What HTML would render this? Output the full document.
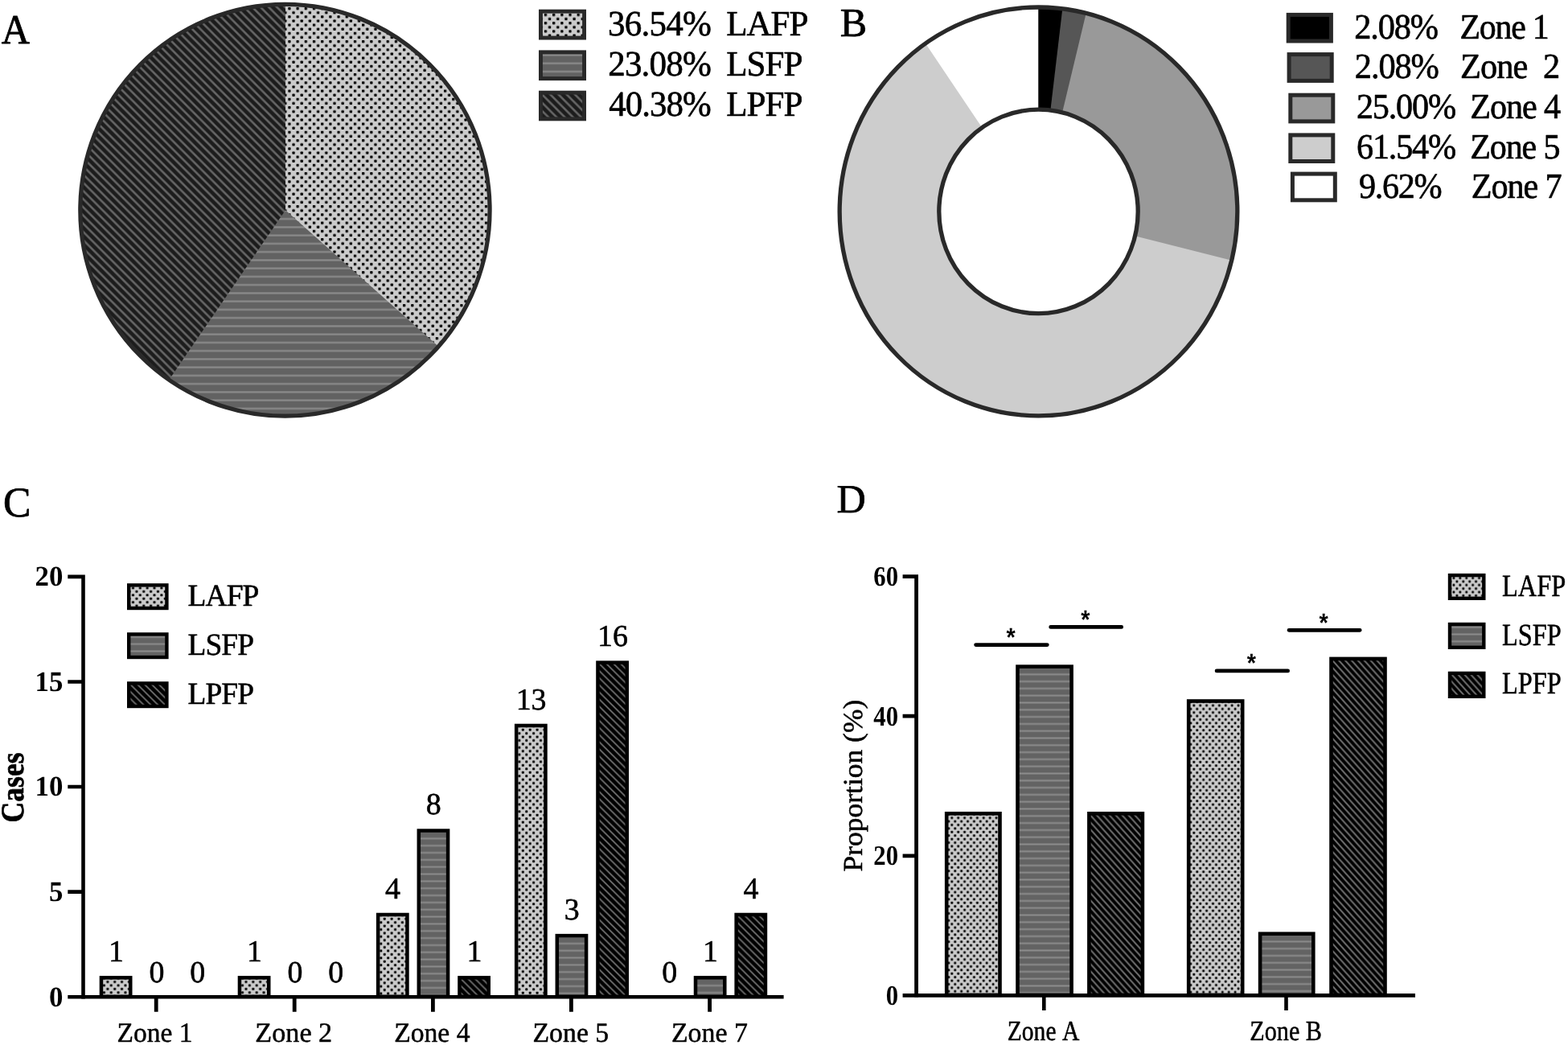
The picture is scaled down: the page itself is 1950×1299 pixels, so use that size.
<!DOCTYPE html>
<html lang="en"><head><meta charset="utf-8"><title>Figure</title>
<style>html,body{margin:0;padding:0;background:#fff}body{width:1950px;height:1299px;overflow:hidden}svg{display:block}text{font-kerning:none;text-rendering:geometricPrecision;white-space:pre}.s{font-family:"Liberation Serif",serif;stroke:#000;stroke-linejoin:round}.sb{font-family:"Liberation Serif",serif;font-weight:bold}.n{font-family:"Liberation Sans",sans-serif}.nb{font-family:"Liberation Sans",sans-serif;font-weight:bold}</style></head><body>
<svg width="1950" height="1299" viewBox="0 0 1950 1299">
<defs>
<pattern id="p1" patternUnits="userSpaceOnUse" x="0" y="1.1" width="10.2" height="10.2">
<rect width="10.2" height="10.2" fill="#1c1c1c"/>
<path d="M-10.2 -10.2L20.4 20.4M-10.2 0L10.2 20.4M0 -10.2L20.4 10.2" stroke="#666" stroke-width="2.6" fill="none"/>
</pattern>
<pattern id="p2" patternUnits="userSpaceOnUse" x="0" y="0.52" width="20" height="10.25">
<rect width="20" height="10.25" fill="#626262"/>
<rect y="4.03" width="20" height="2.2" fill="#8b8b8b"/>
</pattern>
<pattern id="p3" patternUnits="userSpaceOnUse" x="0.75" y="8.09" width="10.19" height="10.25">
<rect width="10.19" height="10.25" fill="#cbcbcb"/>
<rect x="0.9" y="0.91" width="3.3" height="3.3" rx="0.73" fill="#000"/>
<rect x="5.99" y="6.04" width="3.3" height="3.3" rx="0.73" fill="#000"/>
</pattern>
<pattern id="p4" patternUnits="userSpaceOnUse" x="3.38" y="5.66" width="10.19" height="10.25">
<rect width="10.19" height="10.25" fill="#cbcbcb"/>
<rect x="0.9" y="0.91" width="3.3" height="3.3" rx="0.73" fill="#000"/>
<rect x="5.99" y="6.04" width="3.3" height="3.3" rx="0.73" fill="#000"/>
</pattern>
<pattern id="p5" patternUnits="userSpaceOnUse" x="0" y="1.88" width="20" height="10.25">
<rect width="20" height="10.25" fill="#626262"/>
<rect y="4.03" width="20" height="2.2" fill="#8b8b8b"/>
</pattern>
<pattern id="p6" patternUnits="userSpaceOnUse" x="0" y="4.3" width="10.2" height="10.2">
<rect width="10.2" height="10.2" fill="#1c1c1c"/>
<path d="M-10.2 -10.2L20.4 20.4M-10.2 0L10.2 20.4M0 -10.2L20.4 10.2" stroke="#666" stroke-width="2.6" fill="none"/>
</pattern>
<pattern id="p7" patternUnits="userSpaceOnUse" x="7.59" y="7.27" width="8.86" height="8.84">
<rect width="8.86" height="8.84" fill="#cbcbcb"/>
<rect x="0.71" y="0.71" width="3" height="3" rx="0.66" fill="#000"/>
<rect x="5.14" y="5.13" width="3" height="3" rx="0.66" fill="#000"/>
</pattern>
<pattern id="p8" patternUnits="userSpaceOnUse" x="0" y="0.79" width="20" height="8.84">
<rect width="20" height="8.84" fill="#636363"/>
<rect y="3.42" width="20" height="2" fill="#8c8c8c"/>
</pattern>
<pattern id="p9" patternUnits="userSpaceOnUse" x="0" y="2.27" width="8.86" height="8.84">
<rect width="8.86" height="8.84" fill="#000"/>
<path d="M-8.86 -8.84L17.71 17.68M-8.86 0L8.86 17.68M0 -8.84L17.71 8.84" stroke="#707070" stroke-width="1.8" fill="none"/>
</pattern>
<pattern id="p10" patternUnits="userSpaceOnUse" x="2.49" y="7.27" width="8.86" height="8.84">
<rect width="8.86" height="8.84" fill="#cbcbcb"/>
<rect x="0.71" y="0.71" width="3" height="3" rx="0.66" fill="#000"/>
<rect x="5.14" y="5.13" width="3" height="3" rx="0.66" fill="#000"/>
</pattern>
<pattern id="p11" patternUnits="userSpaceOnUse" x="0" y="0.79" width="20" height="8.84">
<rect width="20" height="8.84" fill="#636363"/>
<rect y="3.42" width="20" height="2" fill="#8c8c8c"/>
</pattern>
<pattern id="p12" patternUnits="userSpaceOnUse" x="0" y="7.37" width="8.86" height="8.84">
<rect width="8.86" height="8.84" fill="#000"/>
<path d="M-8.86 -8.84L17.71 17.68M-8.86 0L8.86 17.68M0 -8.84L17.71 8.84" stroke="#707070" stroke-width="1.8" fill="none"/>
</pattern>
<pattern id="p13" patternUnits="userSpaceOnUse" x="6.44" y="8.48" width="8.86" height="8.84">
<rect width="8.86" height="8.84" fill="#cbcbcb"/>
<rect x="0.71" y="0.71" width="3" height="3" rx="0.66" fill="#000"/>
<rect x="5.14" y="5.13" width="3" height="3" rx="0.66" fill="#000"/>
</pattern>
<pattern id="p14" patternUnits="userSpaceOnUse" x="0" y="2.01" width="20" height="8.84">
<rect width="20" height="8.84" fill="#636363"/>
<rect y="3.42" width="20" height="2" fill="#8c8c8c"/>
</pattern>
<pattern id="p15" patternUnits="userSpaceOnUse" x="0" y="4.63" width="8.86" height="8.84">
<rect width="8.86" height="8.84" fill="#000"/>
<path d="M-8.86 -8.84L17.71 17.68M-8.86 0L8.86 17.68M0 -8.84L17.71 8.84" stroke="#707070" stroke-width="1.8" fill="none"/>
</pattern>
<pattern id="p16" patternUnits="userSpaceOnUse" x="3.96" y="1.26" width="8.86" height="8.84">
<rect width="8.86" height="8.84" fill="#cbcbcb"/>
<rect x="0.71" y="0.71" width="3" height="3" rx="0.66" fill="#000"/>
<rect x="5.14" y="5.13" width="3" height="3" rx="0.66" fill="#000"/>
</pattern>
<pattern id="p17" patternUnits="userSpaceOnUse" x="0" y="3.63" width="20" height="8.84">
<rect width="20" height="8.84" fill="#636363"/>
<rect y="3.42" width="20" height="2" fill="#8c8c8c"/>
</pattern>
<pattern id="p18" patternUnits="userSpaceOnUse" x="0" y="8.73" width="8.86" height="8.84">
<rect width="8.86" height="8.84" fill="#000"/>
<path d="M-8.86 -8.84L17.71 17.68M-8.86 0L8.86 17.68M0 -8.84L17.71 8.84" stroke="#707070" stroke-width="1.8" fill="none"/>
</pattern>
<pattern id="p19" patternUnits="userSpaceOnUse" x="1.48" y="7.27" width="8.86" height="8.84">
<rect width="8.86" height="8.84" fill="#cbcbcb"/>
<rect x="0.71" y="0.71" width="3" height="3" rx="0.66" fill="#000"/>
<rect x="5.14" y="5.13" width="3" height="3" rx="0.66" fill="#000"/>
</pattern>
<pattern id="p20" patternUnits="userSpaceOnUse" x="0" y="0.79" width="20" height="8.84">
<rect width="20" height="8.84" fill="#636363"/>
<rect y="3.42" width="20" height="2" fill="#8c8c8c"/>
</pattern>
<pattern id="p21" patternUnits="userSpaceOnUse" x="0" y="8.37" width="8.86" height="8.84">
<rect width="8.86" height="8.84" fill="#000"/>
<path d="M-8.86 -8.84L17.71 17.68M-8.86 0L8.86 17.68M0 -8.84L17.71 8.84" stroke="#707070" stroke-width="1.8" fill="none"/>
</pattern>
<pattern id="p22" patternUnits="userSpaceOnUse" x="1.34" y="3.29" width="8.86" height="8.84">
<rect width="8.86" height="8.84" fill="#cbcbcb"/>
<rect x="0.71" y="0.71" width="3" height="3" rx="0.66" fill="#000"/>
<rect x="5.14" y="5.13" width="3" height="3" rx="0.66" fill="#000"/>
</pattern>
<pattern id="p23" patternUnits="userSpaceOnUse" x="0" y="5.65" width="20" height="8.84">
<rect width="20" height="8.84" fill="#636363"/>
<rect y="3.42" width="20" height="2" fill="#8c8c8c"/>
</pattern>
<pattern id="p24" patternUnits="userSpaceOnUse" x="0" y="4.53" width="8.86" height="8.84">
<rect width="8.86" height="8.84" fill="#000"/>
<path d="M-8.86 -8.84L17.71 17.68M-8.86 0L8.86 17.68M0 -8.84L17.71 8.84" stroke="#707070" stroke-width="1.8" fill="none"/>
</pattern>
<pattern id="p25" patternUnits="userSpaceOnUse" x="7.72" y="8.08" width="8.86" height="8.84">
<rect width="8.86" height="8.84" fill="#cbcbcb"/>
<rect x="0.71" y="0.71" width="3" height="3" rx="0.66" fill="#000"/>
<rect x="5.14" y="5.13" width="3" height="3" rx="0.66" fill="#000"/>
</pattern>
<pattern id="p26" patternUnits="userSpaceOnUse" x="0" y="1.6" width="20" height="8.84">
<rect width="20" height="8.84" fill="#636363"/>
<rect y="3.42" width="20" height="2" fill="#8c8c8c"/>
</pattern>
<pattern id="p27" patternUnits="userSpaceOnUse" x="0" y="2.95" width="8.86" height="8.84">
<rect width="8.86" height="8.84" fill="#000"/>
<path d="M-8.86 -8.84L17.71 17.68M-8.86 0L8.86 17.68M0 -8.84L17.71 8.84" stroke="#707070" stroke-width="1.8" fill="none"/>
</pattern>
<pattern id="p28" patternUnits="userSpaceOnUse" x="5.24" y="4.5" width="8.86" height="8.84">
<rect width="8.86" height="8.84" fill="#cbcbcb"/>
<rect x="0.71" y="0.71" width="3" height="3" rx="0.66" fill="#000"/>
<rect x="5.14" y="5.13" width="3" height="3" rx="0.66" fill="#000"/>
</pattern>
<pattern id="p29" patternUnits="userSpaceOnUse" x="0" y="6.87" width="20" height="8.84">
<rect width="20" height="8.84" fill="#636363"/>
<rect y="3.42" width="20" height="2" fill="#8c8c8c"/>
</pattern>
<pattern id="p30" patternUnits="userSpaceOnUse" x="0" y="1.86" width="8.86" height="8.84">
<rect width="8.86" height="8.84" fill="#000"/>
<path d="M-8.86 -8.84L17.71 17.68M-8.86 0L8.86 17.68M0 -8.84L17.71 8.84" stroke="#707070" stroke-width="1.8" fill="none"/>
</pattern>
<pattern id="p31" patternUnits="userSpaceOnUse" x="2.82" y="7.27" width="8.86" height="8.84">
<rect width="8.86" height="8.84" fill="#cbcbcb"/>
<rect x="0.71" y="0.71" width="3" height="3" rx="0.66" fill="#000"/>
<rect x="5.14" y="5.13" width="3" height="3" rx="0.66" fill="#000"/>
</pattern>
<pattern id="p32" patternUnits="userSpaceOnUse" x="0" y="0.79" width="20" height="8.84">
<rect width="20" height="8.84" fill="#636363"/>
<rect y="3.42" width="20" height="2" fill="#8c8c8c"/>
</pattern>
<pattern id="p33" patternUnits="userSpaceOnUse" x="0" y="7.04" width="8.86" height="8.84">
<rect width="8.86" height="8.84" fill="#000"/>
<path d="M-8.86 -8.84L17.71 17.68M-8.86 0L8.86 17.68M0 -8.84L17.71 8.84" stroke="#707070" stroke-width="1.8" fill="none"/>
</pattern>
<pattern id="p34" patternUnits="userSpaceOnUse" x="0.34" y="8.48" width="8.86" height="8.84">
<rect width="8.86" height="8.84" fill="#cbcbcb"/>
<rect x="0.71" y="0.71" width="3" height="3" rx="0.66" fill="#000"/>
<rect x="5.14" y="5.13" width="3" height="3" rx="0.66" fill="#000"/>
</pattern>
<pattern id="p35" patternUnits="userSpaceOnUse" x="0" y="2.01" width="20" height="8.84">
<rect width="20" height="8.84" fill="#636363"/>
<rect y="3.42" width="20" height="2" fill="#8c8c8c"/>
</pattern>
<pattern id="p36" patternUnits="userSpaceOnUse" x="0" y="1.89" width="8.86" height="8.84">
<rect width="8.86" height="8.84" fill="#000"/>
<path d="M-8.86 -8.84L17.71 17.68M-8.86 0L8.86 17.68M0 -8.84L17.71 8.84" stroke="#707070" stroke-width="1.8" fill="none"/>
</pattern>
<pattern id="p37" patternUnits="userSpaceOnUse" x="8.2" y="8.27" width="8.86" height="8.84">
<rect width="8.86" height="8.84" fill="#cbcbcb"/>
<rect x="0.71" y="0.71" width="3" height="3" rx="0.66" fill="#000"/>
<rect x="5.14" y="5.13" width="3" height="3" rx="0.66" fill="#000"/>
</pattern>
<pattern id="p38" patternUnits="userSpaceOnUse" x="0" y="0.62" width="20" height="8.84">
<rect width="20" height="8.84" fill="#636363"/>
<rect y="3.42" width="20" height="2" fill="#8c8c8c"/>
</pattern>
<pattern id="p39" patternUnits="userSpaceOnUse" x="0" y="8.36" width="8.86" height="8.84">
<rect width="8.86" height="8.84" fill="#000"/>
<path d="M-8.86 -8.84L17.71 17.68M-8.86 0L8.86 17.68M0 -8.84L17.71 8.84" stroke="#707070" stroke-width="1.8" fill="none"/>
</pattern>
<pattern id="p40" patternUnits="userSpaceOnUse" x="4.71" y="2.47" width="7.9" height="8.8">
<rect width="7.9" height="8.8" fill="#cbcbcb"/>
<rect x="0.58" y="0.8" width="2.8" height="2.8" rx="0.62" fill="#000"/>
<rect x="4.53" y="5.2" width="2.8" height="2.8" rx="0.62" fill="#000"/>
</pattern>
<pattern id="p41" patternUnits="userSpaceOnUse" x="0" y="4.56" width="20" height="8.8">
<rect width="20" height="8.8" fill="#636363"/>
<rect y="3.4" width="20" height="2" fill="#8c8c8c"/>
</pattern>
<pattern id="p42" patternUnits="userSpaceOnUse" x="0" y="8.22" width="7.9" height="8.8">
<rect width="7.9" height="8.8" fill="#000"/>
<path d="M-7.9 -8.8L15.8 17.6M-7.9 0L7.9 17.6M0 -8.8L15.8 8.8" stroke="#707070" stroke-width="2" fill="none"/>
</pattern>
<pattern id="p43" patternUnits="userSpaceOnUse" x="6.11" y="4.6" width="7.9" height="8.8">
<rect width="7.9" height="8.8" fill="#cbcbcb"/>
<rect x="0.58" y="0.8" width="2.8" height="2.8" rx="0.62" fill="#000"/>
<rect x="4.53" y="5.2" width="2.8" height="2.8" rx="0.62" fill="#000"/>
</pattern>
<pattern id="p44" patternUnits="userSpaceOnUse" x="0" y="6.69" width="20" height="8.8">
<rect width="20" height="8.8" fill="#636363"/>
<rect y="3.4" width="20" height="2" fill="#8c8c8c"/>
</pattern>
<pattern id="p45" patternUnits="userSpaceOnUse" x="0" y="8.79" width="7.9" height="8.8">
<rect width="7.9" height="8.8" fill="#000"/>
<path d="M-7.9 -8.8L15.8 17.6M-7.9 0L7.9 17.6M0 -8.8L15.8 8.8" stroke="#707070" stroke-width="2" fill="none"/>
</pattern>
<pattern id="p46" patternUnits="userSpaceOnUse" x="0.21" y="2.47" width="7.9" height="8.8">
<rect width="7.9" height="8.8" fill="#cbcbcb"/>
<rect x="0.58" y="0.8" width="2.8" height="2.8" rx="0.62" fill="#000"/>
<rect x="4.53" y="5.2" width="2.8" height="2.8" rx="0.62" fill="#000"/>
</pattern>
<pattern id="p47" patternUnits="userSpaceOnUse" x="0" y="4.56" width="20" height="8.8">
<rect width="20" height="8.8" fill="#636363"/>
<rect y="3.4" width="20" height="2" fill="#8c8c8c"/>
</pattern>
<pattern id="p48" patternUnits="userSpaceOnUse" x="0" y="4.43" width="7.9" height="8.8">
<rect width="7.9" height="8.8" fill="#000"/>
<path d="M-7.9 -8.8L15.8 17.6M-7.9 0L7.9 17.6M0 -8.8L15.8 8.8" stroke="#707070" stroke-width="2" fill="none"/>
</pattern>
<pattern id="p49" patternUnits="userSpaceOnUse" x="5.51" y="3.5" width="7.9" height="8.8">
<rect width="7.9" height="8.8" fill="#cbcbcb"/>
<rect x="0.58" y="0.8" width="2.8" height="2.8" rx="0.62" fill="#000"/>
<rect x="4.53" y="5.2" width="2.8" height="2.8" rx="0.62" fill="#000"/>
</pattern>
<pattern id="p50" patternUnits="userSpaceOnUse" x="0" y="5.59" width="20" height="8.8">
<rect width="20" height="8.8" fill="#636363"/>
<rect y="3.4" width="20" height="2" fill="#8c8c8c"/>
</pattern>
<pattern id="p51" patternUnits="userSpaceOnUse" x="0" y="8.36" width="7.9" height="8.8">
<rect width="7.9" height="8.8" fill="#000"/>
<path d="M-7.9 -8.8L15.8 17.6M-7.9 0L7.9 17.6M0 -8.8L15.8 8.8" stroke="#707070" stroke-width="2" fill="none"/>
</pattern>
<pattern id="p52" patternUnits="userSpaceOnUse" x="7.51" y="2.32" width="7.9" height="8.8">
<rect width="7.9" height="8.8" fill="#cbcbcb"/>
<rect x="0.58" y="0.8" width="2.8" height="2.8" rx="0.62" fill="#000"/>
<rect x="4.53" y="5.2" width="2.8" height="2.8" rx="0.62" fill="#000"/>
</pattern>
<pattern id="p53" patternUnits="userSpaceOnUse" x="0" y="4.41" width="20" height="8.8">
<rect width="20" height="8.8" fill="#636363"/>
<rect y="3.4" width="20" height="2" fill="#8c8c8c"/>
</pattern>
<pattern id="p54" patternUnits="userSpaceOnUse" x="0" y="4.95" width="7.9" height="8.8">
<rect width="7.9" height="8.8" fill="#000"/>
<path d="M-7.9 -8.8L15.8 17.6M-7.9 0L7.9 17.6M0 -8.8L15.8 8.8" stroke="#707070" stroke-width="2" fill="none"/>
</pattern>
<pattern id="p55" patternUnits="userSpaceOnUse" x="1.11" y="3.71" width="7.9" height="8.8">
<rect width="7.9" height="8.8" fill="#cbcbcb"/>
<rect x="0.58" y="0.8" width="2.8" height="2.8" rx="0.62" fill="#000"/>
<rect x="4.53" y="5.2" width="2.8" height="2.8" rx="0.62" fill="#000"/>
</pattern>
<pattern id="p56" patternUnits="userSpaceOnUse" x="0" y="5.8" width="20" height="8.8">
<rect width="20" height="8.8" fill="#636363"/>
<rect y="3.4" width="20" height="2" fill="#8c8c8c"/>
</pattern>
<pattern id="p57" patternUnits="userSpaceOnUse" x="0" y="4.67" width="7.9" height="8.8">
<rect width="7.9" height="8.8" fill="#000"/>
<path d="M-7.9 -8.8L15.8 17.6M-7.9 0L7.9 17.6M0 -8.8L15.8 8.8" stroke="#707070" stroke-width="2" fill="none"/>
</pattern>
<pattern id="p58" patternUnits="userSpaceOnUse" x="0.79" y="7.86" width="7.9" height="8.8">
<rect width="7.9" height="8.8" fill="#cbcbcb"/>
<rect x="0.58" y="0.8" width="2.8" height="2.8" rx="0.62" fill="#000"/>
<rect x="4.53" y="5.2" width="2.8" height="2.8" rx="0.62" fill="#000"/>
</pattern>
<pattern id="p59" patternUnits="userSpaceOnUse" x="0" y="0.86" width="20" height="8.8">
<rect width="20" height="8.8" fill="#636363"/>
<rect y="3.4" width="20" height="2" fill="#8c8c8c"/>
</pattern>
<pattern id="p60" patternUnits="userSpaceOnUse" x="0" y="6.56" width="7.9" height="8.8">
<rect width="7.9" height="8.8" fill="#000"/>
<path d="M-7.9 -8.8L15.8 17.6M-7.9 0L7.9 17.6M0 -8.8L15.8 8.8" stroke="#707070" stroke-width="2" fill="none"/>
</pattern>
</defs>
<rect width="1950" height="1299" fill="#fff"/>
<g id="panelA">
<ellipse cx="354.45" cy="261.25" rx="254.65" ry="255.95" fill="url(#p1)"/>
<path d="M355.05 261.25L355.05 5.3A254.65 255.95 0 1 1 210.39 471.89Z" fill="url(#p2)"/>
<path d="M355.05 261.25L355.05 5.3A254.65 255.95 0 0 1 545.66 430.98Z" fill="url(#p3)"/>
<ellipse cx="354.45" cy="261.25" rx="254.65" ry="255.95" fill="none" stroke="#292929" stroke-width="5.2"/>
<rect x="672.45" y="14.15" width="54.1" height="32.9" fill="url(#p4)" stroke="#292929" stroke-width="4.9"/>
<rect x="672.45" y="64.85" width="54.1" height="32.8" fill="url(#p5)" stroke="#292929" stroke-width="4.9"/>
<rect x="672.45" y="115.15" width="54.1" height="32.7" fill="url(#p6)" stroke="#292929" stroke-width="4.9"/>
<text class="s" font-size="44.3" stroke-width="0.66" letter-spacing="-0.8" transform="translate(756.04 43.7) scale(0.9709 1)" xml:space="preserve">36.54%</text>
<text class="s" font-size="44.3" stroke-width="0.66" letter-spacing="-1.01" transform="translate(903.16 43.7) scale(0.9721 1)" xml:space="preserve">LAFP</text>
<text class="s" font-size="44.3" stroke-width="0.66" letter-spacing="-0.82" transform="translate(756.21 94) scale(0.9703 1)" xml:space="preserve">23.08%</text>
<text class="s" font-size="44.3" stroke-width="0.66" letter-spacing="-0.96" transform="translate(903.16 94) scale(0.9713 1)" xml:space="preserve">LSFP</text>
<text class="s" font-size="44.3" stroke-width="0.66" letter-spacing="-0.93" transform="translate(757.26 144.3) scale(0.9665 1)" xml:space="preserve">40.38%</text>
<text class="s" font-size="44.3" stroke-width="0.66" letter-spacing="-0.96" transform="translate(903.16 144.3) scale(0.9713 1)" xml:space="preserve">LPFP</text>
<text class="s" font-size="51.5" stroke-width="0.77" transform="translate(1.87 53.8) scale(0.9487 1)" xml:space="preserve">A</text>
</g>
<g id="panelB">
<ellipse cx="1291.5" cy="262.95" rx="247.35" ry="253.95" fill="#fff"/>
<path d="M1291.5 262.95L1291.5 9A247.35 253.95 0 1 1 1150.99 53.95Z" fill="#cdcdcd"/>
<path d="M1291.5 262.95L1291.5 9A247.35 253.95 0 0 1 1531.66 323.72Z" fill="#999"/>
<path d="M1291.5 262.95L1291.5 9A247.35 253.95 0 0 1 1350.69 16.38Z" fill="#565656"/>
<path d="M1291.5 262.95L1291.5 9A247.35 253.95 0 0 1 1321.31 10.85Z" fill="#000"/>
<ellipse cx="1291.5" cy="262.95" rx="247.35" ry="253.95" fill="none" stroke="#292929" stroke-width="5.3"/>
<ellipse cx="1291.5" cy="262.95" rx="123.7" ry="126.75" fill="#fff" stroke="#292929" stroke-width="5.3"/>
<rect x="1602.2" y="18.4" width="53.2" height="32.6" fill="#000" stroke="#292929" stroke-width="5"/>
<text class="s" font-size="44.2" stroke-width="0.66" letter-spacing="-1.22" transform="translate(1684.34 47.7) scale(0.9579 1)" xml:space="preserve">2.08%</text>
<text class="s" font-size="44.2" stroke-width="0.66" letter-spacing="-1.33" transform="translate(1815.5 47.7) scale(0.9472 1)" xml:space="preserve">Zone 1</text>
<rect x="1603.1" y="67.6" width="53.1" height="32.8" fill="#565656" stroke="#292929" stroke-width="5"/>
<text class="s" font-size="44.2" stroke-width="0.66" letter-spacing="-1.16" transform="translate(1684.84 96.9) scale(0.9597 1)" xml:space="preserve">2.08%</text>
<text class="s" font-size="44.2" stroke-width="0.66" letter-spacing="-0.92" transform="translate(1815.97 96.9) scale(0.9595 1)" xml:space="preserve">Zone  2</text>
<rect x="1604.8" y="118.2" width="53" height="32.7" fill="#999" stroke="#292929" stroke-width="5"/>
<text class="s" font-size="44.2" stroke-width="0.66" letter-spacing="-1.25" transform="translate(1686.94 147.4) scale(0.9551 1)" xml:space="preserve">25.00%</text>
<text class="s" font-size="44.2" stroke-width="0.66" letter-spacing="-1.15" transform="translate(1828.28 147.4) scale(0.9548 1)" xml:space="preserve">Zone 4</text>
<rect x="1604.8" y="167.9" width="53" height="32.6" fill="#cdcdcd" stroke="#292929" stroke-width="5"/>
<text class="s" font-size="44.2" stroke-width="0.66" letter-spacing="-1.25" transform="translate(1686.99 197.2) scale(0.9550 1)" xml:space="preserve">61.54%</text>
<text class="s" font-size="44.2" stroke-width="0.66" letter-spacing="-1.21" transform="translate(1828.29 197.2) scale(0.9520 1)" xml:space="preserve">Zone 5</text>
<rect x="1607.4" y="216.1" width="52.9" height="32.7" fill="#fff" stroke="#292929" stroke-width="5"/>
<text class="s" font-size="44.2" stroke-width="0.66" letter-spacing="-1.34" transform="translate(1689.94 246.4) scale(0.9540 1)" xml:space="preserve">9.62%</text>
<text class="s" font-size="44.2" stroke-width="0.66" letter-spacing="-1.14" transform="translate(1829.78 246.4) scale(0.9549 1)" xml:space="preserve">Zone 7</text>
<text class="s" font-size="50.25" stroke-width="0.75" transform="translate(1044.75 45) scale(0.9995 1)" xml:space="preserve">B</text>
</g>
<g id="panelC">
<rect x="125.95" y="1215.34" width="36.3" height="23.47" fill="url(#p7)" stroke="#000" stroke-width="4.5"/>
<text class="s" font-size="37.9" stroke-width="0.57" transform="translate(134.93 1194.88)" xml:space="preserve">1</text>
<text class="s" font-size="37.9" stroke-width="0.57" transform="translate(185.58 1221)" xml:space="preserve">0</text>
<text class="s" font-size="37.9" stroke-width="0.57" transform="translate(236.23 1221)" xml:space="preserve">0</text>
<rect x="297.95" y="1215.34" width="36.3" height="23.47" fill="url(#p10)" stroke="#000" stroke-width="4.5"/>
<text class="s" font-size="37.9" stroke-width="0.57" transform="translate(306.93 1194.88)" xml:space="preserve">1</text>
<text class="s" font-size="37.9" stroke-width="0.57" transform="translate(357.57 1221)" xml:space="preserve">0</text>
<text class="s" font-size="37.9" stroke-width="0.57" transform="translate(408.22 1221)" xml:space="preserve">0</text>
<rect x="470.15" y="1136.99" width="36.3" height="101.81" fill="url(#p13)" stroke="#000" stroke-width="4.5"/>
<text class="s" font-size="37.9" stroke-width="0.57" transform="translate(479.12 1116.54)" xml:space="preserve">4</text>
<rect x="520.8" y="1032.53" width="36.3" height="206.27" fill="url(#p17)" stroke="#000" stroke-width="4.5"/>
<text class="s" font-size="37.9" stroke-width="0.57" transform="translate(529.77 1012.08)" xml:space="preserve">8</text>
<rect x="571.45" y="1215.34" width="36.3" height="23.47" fill="url(#p21)" stroke="#000" stroke-width="4.5"/>
<text class="s" font-size="37.9" stroke-width="0.57" transform="translate(580.42 1194.88)" xml:space="preserve">1</text>
<rect x="642.15" y="901.96" width="36.3" height="336.85" fill="url(#p22)" stroke="#000" stroke-width="4.5"/>
<text class="s" font-size="37.9" stroke-width="0.57" transform="translate(641.65 881.5)" xml:space="preserve">13</text>
<rect x="692.8" y="1163.11" width="36.3" height="75.7" fill="url(#p26)" stroke="#000" stroke-width="4.5"/>
<text class="s" font-size="37.9" stroke-width="0.57" transform="translate(701.77 1142.65)" xml:space="preserve">3</text>
<rect x="743.45" y="823.61" width="36.3" height="415.19" fill="url(#p30)" stroke="#000" stroke-width="4.5"/>
<text class="s" font-size="37.9" stroke-width="0.57" transform="translate(742.95 803.16)" xml:space="preserve">16</text>
<text class="s" font-size="37.9" stroke-width="0.57" transform="translate(823.32 1221)" xml:space="preserve">0</text>
<rect x="865" y="1215.34" width="36.3" height="23.47" fill="url(#p32)" stroke="#000" stroke-width="4.5"/>
<text class="s" font-size="37.9" stroke-width="0.57" transform="translate(873.97 1194.88)" xml:space="preserve">1</text>
<rect x="915.65" y="1136.99" width="36.3" height="101.81" fill="url(#p36)" stroke="#000" stroke-width="4.5"/>
<text class="s" font-size="37.9" stroke-width="0.57" transform="translate(924.62 1116.54)" xml:space="preserve">4</text>
<path d="M84.3 716.9H103.5V1241.45M84.3 847.5H103.5M84.3 978.05H103.5M84.3 1108.6H103.5" fill="none" stroke="#000" stroke-width="4.6"/>
<path d="M84.3 1239.2H974.6" fill="none" stroke="#000" stroke-width="4.5"/>
<path d="M194.2 1239.2V1257.7M366.2 1239.2V1257.7M538.4 1239.2V1257.7M710.4 1239.2V1257.7M882.6 1239.2V1257.7" fill="none" stroke="#000" stroke-width="4.8"/>
<text class="sb" font-size="35.4" transform="translate(43.56 728.2) scale(0.9850 1)" xml:space="preserve">20</text>
<text class="sb" font-size="35.4" transform="translate(43.51 858.8) scale(0.9850 1)" xml:space="preserve">15</text>
<text class="sb" font-size="35.4" transform="translate(43.56 989.35) scale(0.9850 1)" xml:space="preserve">10</text>
<text class="sb" font-size="35.4" transform="translate(60.94 1119.9) scale(0.9850 1)" xml:space="preserve">5</text>
<text class="sb" font-size="35.4" transform="translate(60.99 1250.5) scale(0.9850 1)" xml:space="preserve">0</text>
<text class="sb" font-size="40.3" stroke="#000" stroke-width="0.7" stroke-linejoin="round" transform="translate(28.6 1022.44) rotate(-90) scale(0.8833 1)" xml:space="preserve">Cases</text>
<text class="s" font-size="34.3" stroke-width="0.51" transform="translate(145.6 1295.1) scale(0.9751 1)" xml:space="preserve">Zone 1</text>
<text class="s" font-size="34.3" stroke-width="0.51" transform="translate(317.37 1295.1) scale(0.9960 1)" xml:space="preserve">Zone 2</text>
<text class="s" font-size="34.3" stroke-width="0.51" transform="translate(490.19 1295.1) scale(0.9806 1)" xml:space="preserve">Zone 4</text>
<text class="s" font-size="34.3" stroke-width="0.51" transform="translate(662.48 1295.1) scale(0.9848 1)" xml:space="preserve">Zone 5</text>
<text class="s" font-size="34.3" stroke-width="0.51" transform="translate(834.88 1295.1) scale(0.9875 1)" xml:space="preserve">Zone 7</text>
<rect x="160.2" y="727.4" width="47.2" height="28.6" fill="url(#p37)" stroke="#000" stroke-width="4.4"/>
<rect x="160.2" y="788.4" width="47.2" height="28.6" fill="url(#p38)" stroke="#000" stroke-width="4.4"/>
<rect x="160.2" y="849.4" width="47.2" height="28.6" fill="url(#p39)" stroke="#000" stroke-width="4.4"/>
<text class="s" font-size="38.6" stroke-width="0.58" letter-spacing="-0.9" transform="translate(233.42 752.9) scale(0.9715 1)" xml:space="preserve">LAFP</text>
<text class="s" font-size="38.6" stroke-width="0.58" letter-spacing="-0.9" transform="translate(233.42 813.9) scale(0.9694 1)" xml:space="preserve">LSFP</text>
<text class="s" font-size="38.6" stroke-width="0.58" letter-spacing="-0.9" transform="translate(233.42 874.9) scale(0.9694 1)" xml:space="preserve">LPFP</text>
<text class="s" font-size="52.39" stroke-width="0.79" transform="translate(4.08 641.69) scale(0.9865 1)" xml:space="preserve">C</text>
</g>
<g id="panelD">
<rect x="1177.2" y="1011.27" width="66.3" height="225.63" fill="url(#p40)" stroke="#000" stroke-width="4.6"/>
<rect x="1265.5" y="828.6" width="67.1" height="408.3" fill="url(#p44)" stroke="#000" stroke-width="4.6"/>
<rect x="1354.4" y="1011.27" width="66.5" height="225.63" fill="url(#p48)" stroke="#000" stroke-width="4.6"/>
<rect x="1478.2" y="871.5" width="67" height="365.4" fill="url(#p49)" stroke="#000" stroke-width="4.6"/>
<rect x="1567.1" y="1160.72" width="66.2" height="76.18" fill="url(#p53)" stroke="#000" stroke-width="4.6"/>
<rect x="1655.5" y="818.91" width="67" height="417.99" fill="url(#p57)" stroke="#000" stroke-width="4.6"/>
<path d="M1122.6 716.7H1139.6V1239.6M1122.6 890.2H1139.6M1122.6 1063.8H1139.6" fill="none" stroke="#000" stroke-width="4.8"/>
<path d="M1122.6 1237.3H1760" fill="none" stroke="#000" stroke-width="4.7"/>
<path d="M1298.3 1237.3V1255.9M1599.5 1237.3V1255.9" fill="none" stroke="#000" stroke-width="4.6"/>
<text class="sb" font-size="34.8" transform="translate(1086.27 728.3) scale(0.8850 1)" xml:space="preserve">60</text>
<text class="sb" font-size="34.8" transform="translate(1086.27 901.8) scale(0.8850 1)" xml:space="preserve">40</text>
<text class="sb" font-size="34.8" transform="translate(1086.27 1075.4) scale(0.8850 1)" xml:space="preserve">20</text>
<text class="sb" font-size="34.8" transform="translate(1101.67 1248.9) scale(0.8850 1)" xml:space="preserve">0</text>
<text class="s" font-size="33.9" stroke-width="0.51" transform="translate(1071.8 1083.42) rotate(-90) scale(1.0459 1)" xml:space="preserve">Proportion (%)</text>
<text class="s" font-size="35" stroke-width="0.53" transform="translate(1252.68 1293.3) scale(0.8461 1)" xml:space="preserve">Zone A</text>
<text class="s" font-size="35" stroke-width="0.53" transform="translate(1554.26 1293.3) scale(0.8626 1)" xml:space="preserve">Zone B</text>
<path d="M1213.6 801.6H1302.3M1306.7 779.4H1394.7M1513.1 833.9H1601.6M1603 783.3H1691.2" fill="none" stroke="#000" stroke-width="4.8" stroke-linecap="round"/>
<text class="nb" font-size="32.25" transform="translate(1251.42 803.19) scale(0.8933 1)" xml:space="preserve">*</text>
<text class="nb" font-size="32.25" transform="translate(1344.17 780.99) scale(0.8933 1)" xml:space="preserve">*</text>
<text class="nb" font-size="32.25" transform="translate(1550.82 835.49) scale(0.8933 1)" xml:space="preserve">*</text>
<text class="nb" font-size="32.25" transform="translate(1640.57 784.89) scale(0.8933 1)" xml:space="preserve">*</text>
<rect x="1803" y="715.1" width="42.3" height="28.7" fill="url(#p58)" stroke="#000" stroke-width="4.4"/>
<rect x="1803" y="776" width="42.3" height="28.8" fill="url(#p59)" stroke="#000" stroke-width="4.4"/>
<rect x="1803" y="836.9" width="42.3" height="28.9" fill="url(#p60)" stroke="#000" stroke-width="4.4"/>
<text class="s" font-size="38.6" stroke-width="0.58" transform="translate(1868.07 740.8) scale(0.8394 1)" xml:space="preserve">LAFP</text>
<text class="s" font-size="38.6" stroke-width="0.58" transform="translate(1868.07 801.7) scale(0.8368 1)" xml:space="preserve">LSFP</text>
<text class="s" font-size="38.6" stroke-width="0.58" transform="translate(1868.07 862.3) scale(0.8368 1)" xml:space="preserve">LPFP</text>
<text class="s" font-size="49.94" stroke-width="0.75" transform="translate(1040.45 636.7) scale(1.0052 1)" xml:space="preserve">D</text>
</g>
</svg></body></html>
